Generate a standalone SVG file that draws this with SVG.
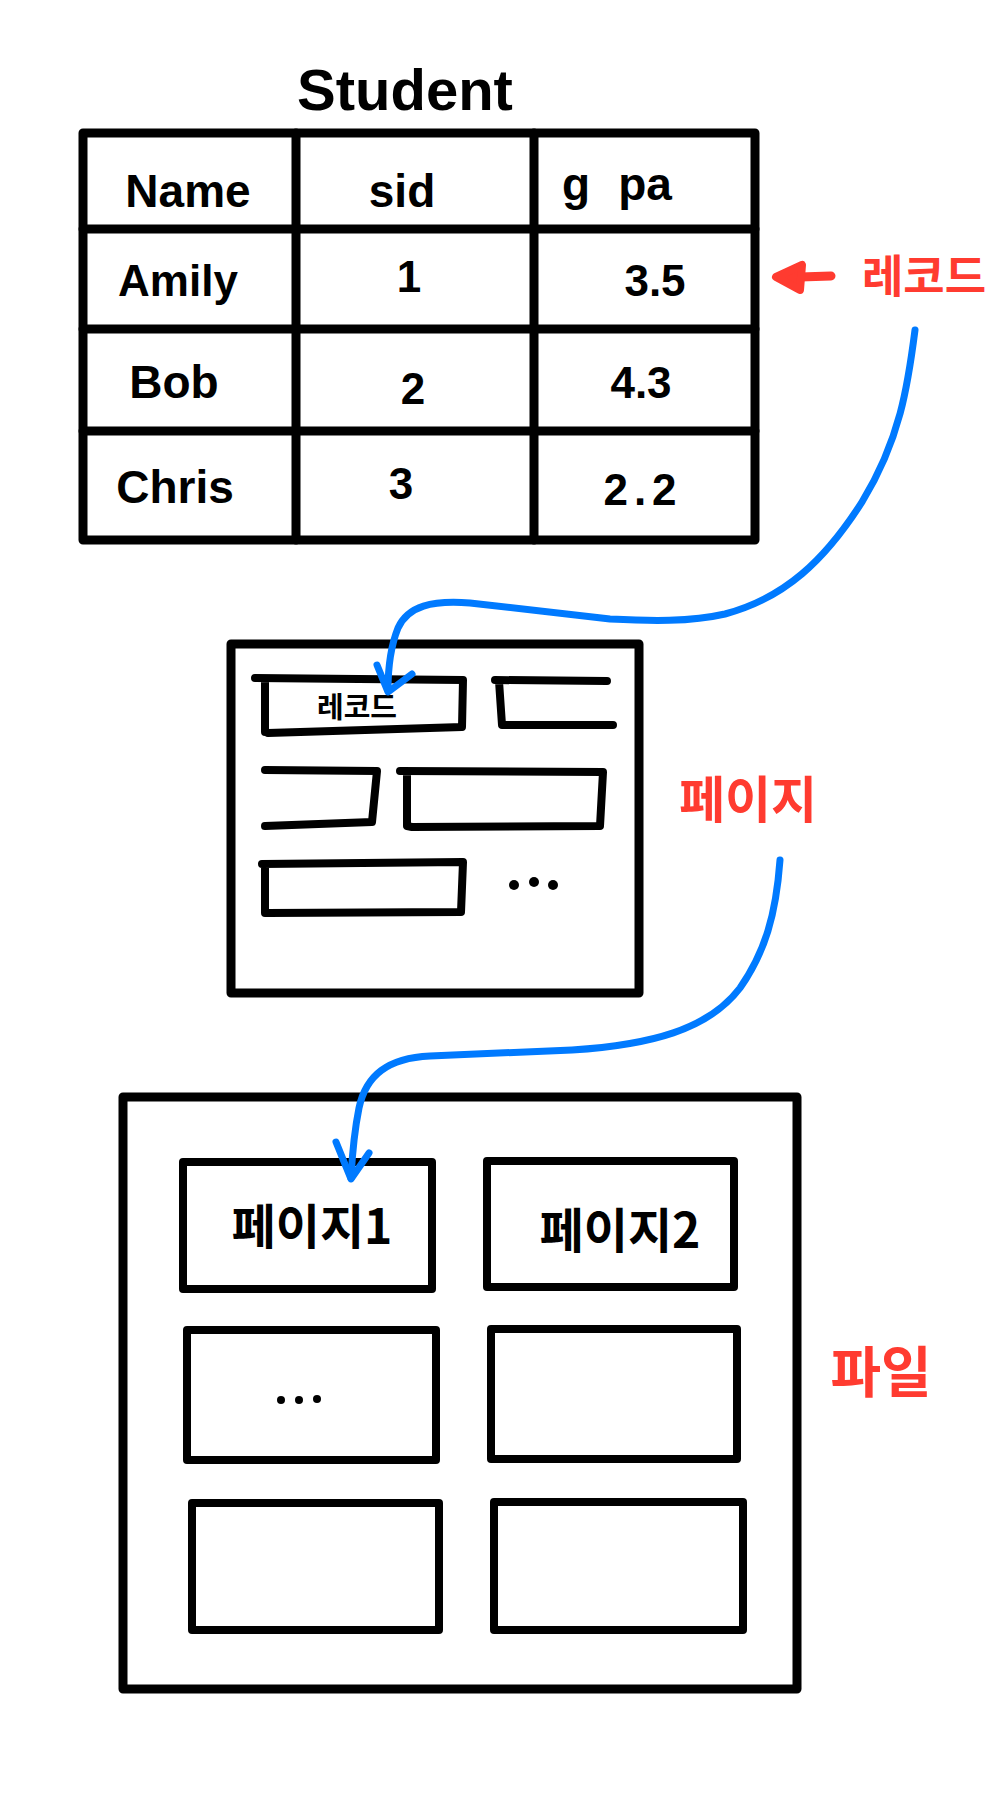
<svg xmlns="http://www.w3.org/2000/svg" width="1000" height="1798" viewBox="0 0 1000 1798">
<style>
.k{fill:none;stroke:#000;stroke-width:9;stroke-linecap:round;stroke-linejoin:round}
.k2{fill:none;stroke:#000;stroke-width:8;stroke-linecap:round;stroke-linejoin:round}
.b{fill:none;stroke:#007AFF;stroke-width:7;stroke-linecap:round;stroke-linejoin:round}
.t{font-family:"Liberation Sans","Noto Sans CJK KR",sans-serif;font-weight:700;fill:#000;text-anchor:middle}
.r{font-family:"Noto Sans CJK KR","Liberation Sans",sans-serif;font-weight:700;fill:#FF3B30;text-anchor:middle}
.kr{font-family:"Noto Sans CJK KR","Liberation Sans",sans-serif;font-weight:700;fill:#000;text-anchor:middle}
</style>
<rect width="1000" height="1798" fill="#fff"/>

<g id="table">
<text class="t" x="405" y="110" font-size="58">Student</text>
<rect class="k" x="83" y="133" width="672" height="407"/>
<line class="k" x1="296" y1="133" x2="296" y2="540"/>
<line class="k" x1="534" y1="133" x2="534" y2="540"/>
<line class="k" x1="83" y1="229" x2="755" y2="229"/>
<line class="k" x1="83" y1="329" x2="755" y2="329"/>
<line class="k" x1="83" y1="431" x2="755" y2="431"/>
<text class="t" x="188" y="207" font-size="46">Name</text>
<text class="t" x="402" y="207" font-size="46">sid</text>
<text class="t" x="617" y="200" font-size="46">g<tspan dx="28">pa</tspan></text>
<text class="t" x="178" y="296" font-size="44">Amily</text>
<text class="t" x="409" y="292" font-size="44">1</text>
<text class="t" x="655" y="296" font-size="44">3.5</text>
<text class="t" x="174" y="398" font-size="46">Bob</text>
<text class="t" x="413" y="404" font-size="44">2</text>
<text class="t" x="641" y="398" font-size="44">4.3</text>
<text class="t" x="175" y="503" font-size="46">Chris</text>
<text class="t" x="401" y="499" font-size="44">3</text>
<text class="t" x="643" y="505" font-size="44" letter-spacing="6">2.2</text>
</g>

<g id="label-record">
<line x1="831" y1="276" x2="800" y2="277" stroke="#FF3B30" stroke-width="9" stroke-linecap="round"/>
<polygon points="776,277 802,265 800,290" fill="#FF3B30" stroke="#FF3B30" stroke-width="8" stroke-linejoin="round"/>
<text class="r" x="924" y="293" font-size="45">레코드</text>
</g>

<g id="page">
<rect class="k" x="231" y="644" width="408" height="349"/>
<path class="k2" d="M255,678 L463,680 L462,727 L268,733 M265,732 L265,682"/>
<text class="kr" x="357" y="718" font-size="29">레코드</text>
<path class="k2" d="M495,680 L607,681 M499,681 L502,725 L613,725"/>
<path class="k2" d="M265,770 L377,771 L372,822 L265,826"/>
<path class="k2" d="M400,771 L603,772 L600,826 L412,827 L407,826 L407,775"/>
<path class="k2" d="M262,864 L463,862 L461,912 L268,913 L265,913 L265,868"/>
<circle cx="514" cy="885" r="5"/>
<circle cx="534" cy="882" r="5"/>
<circle cx="553" cy="885" r="5"/>
</g>

<g id="label-page">
<text class="r" x="748" y="818" font-size="50">페이지</text>
</g>

<g id="file">
<rect class="k" x="123" y="1097" width="674" height="592"/>
<g id="page1"><rect class="k2" x="183" y="1162" width="249" height="127"/>
<text class="kr" x="312" y="1244" font-size="48">페이지1</text></g>
<g id="page2"><rect class="k2" x="487" y="1161" width="247" height="126"/>
<text class="kr" x="620" y="1248" font-size="48">페이지2</text></g>
<g id="page-more"><rect class="k2" x="187" y="1330" width="249" height="130"/>
<circle cx="281" cy="1400" r="4"/><circle cx="299" cy="1400" r="4"/><circle cx="317" cy="1399" r="4"/></g>
<g id="page4"><rect class="k2" x="491" y="1329" width="246" height="130"/></g>
<g id="page5"><rect class="k2" x="192" y="1503" width="247" height="127"/></g>
<g id="page6"><rect class="k2" x="494" y="1502" width="249" height="128"/></g>
</g>

<g id="label-file">
<text class="r" x="881" y="1392" font-size="55">파일</text>
</g>

<g id="connectors">
<path class="b" d="M915,330 C908,385 900,440 862,502 C825,560 785,598 725,614 C690,622 650,621 610,619 L470,603 C432,600 408,606 398,628 C390,648 388,670 388,690"/>
<path class="b" d="M377,665 L388,692 L412,674"/>
<path class="b" d="M780,860 C776,915 765,952 740,988 C708,1030 650,1045 572,1050 L430,1056 C388,1058 366,1075 359,1108 C353,1138 352,1160 351,1178"/>
<path class="b" d="M336,1142 L351,1179 L369,1153"/>
</g>
</svg>
